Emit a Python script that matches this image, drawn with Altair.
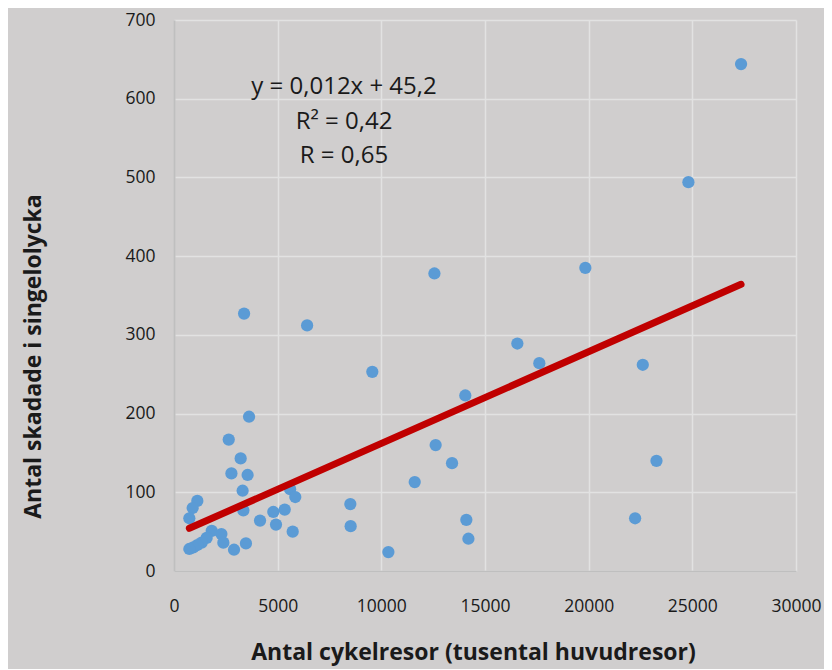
import altair as alt
import pandas as pd

# Antal cykelresor (tusental huvudresor)
resor = [27350, 24810, 19840, 12560, 3380, 6420, 16560, 17620, 22610, 9565,
         14050, 3620, 2640, 12620, 3215, 23270, 13410, 2770, 3550, 11610,
         5600, 3310, 5850, 1125, 8505, 900, 5340, 3345, 4790, 740,
         22240, 14100, 4150, 4920, 8520, 5725, 1820, 2285, 1575, 14200,
         2380, 3470, 1335, 1125, 930, 740, 2895, 10340]
# Antal skadade i singelolycka
skadade = [644, 494, 385, 378, 327, 312, 289, 264, 262, 253,
           223, 196, 167, 160, 143, 140, 137, 124, 122, 113,
           104, 102, 94, 89, 85, 80, 78, 77, 75, 67,
           67, 65, 64, 59, 57, 50, 51, 47, 42, 41,
           36, 35, 36, 33, 30, 28, 27, 24]

annot_lines = ["y = 0,012x + 45,2", "R² = 0,42", "R = 0,65"]
x_ticks = [0, 5000, 10000, 15000, 20000, 25000, 30000]
y_ticks = [0, 100, 200, 300, 400, 500, 600, 700]

df = pd.DataFrame({"resor": resor, "skadade": skadade})

FONT = "Open Sans"
BG = "#D0CECE"
TXT = "#1a1a1a"

xs = alt.Scale(domain=[0, 30000], nice=False)
ys = alt.Scale(domain=[0, 700], nice=False)

base = alt.Chart(df)

points = base.mark_circle(size=150, color="#5B9BD5", opacity=1).encode(
    x=alt.X("resor:Q", scale=xs,
            axis=alt.Axis(title="Antal cykelresor (tusental huvudresor)",
                          values=x_ticks, format="d", labelFlush=False,
                          labelPadding=26, titleX=299, titleY=81,
                          titleBaseline="middle")),
    y=alt.Y("skadade:Q", scale=ys,
            axis=alt.Axis(title="Antal skadade i singelolycka",
                          values=y_ticks, labelPadding=19,
                          titleX=-141, titleY=336,
                          titleAlign="center", titleBaseline="middle")),
)

line = base.transform_regression("resor", "skadade").mark_line(
    color="#C00000", strokeWidth=7, strokeCap="round"
).encode(x="resor:Q", y="skadade:Q")

text_y = [67, 102, 136]
texts = [
    alt.Chart(pd.DataFrame({"t": [s]})).mark_text(
        font=FONT, fontSize=24, color=TXT, align="center", baseline="middle"
    ).encode(x=alt.value(170), y=alt.value(yy), text="t:N")
    for s, yy in zip(annot_lines, text_y)
]

chart = alt.layer(points, line, *texts).properties(
    width=622, height=551,
    background=BG,
    autosize=alt.AutoSizeParams(type="none"),
    padding={"left": 166, "top": 12, "right": 28, "bottom": 98},
).configure_view(stroke=None).configure_axis(
    grid=True, gridColor="#E2E2E2", gridWidth=1.5,
    domain=True, domainColor="#BFBFBF", domainWidth=1.5, ticks=False,
    labelFont=FONT, labelFontSize=17.5, labelColor=TXT,
    titleFont=FONT, titleFontSize=23, titleFontWeight="bold", titleColor=TXT,
).configure_axisY(domainWidth=2)

chart.save("out.html", embed_options={"renderer": "svg", "actions": False})
